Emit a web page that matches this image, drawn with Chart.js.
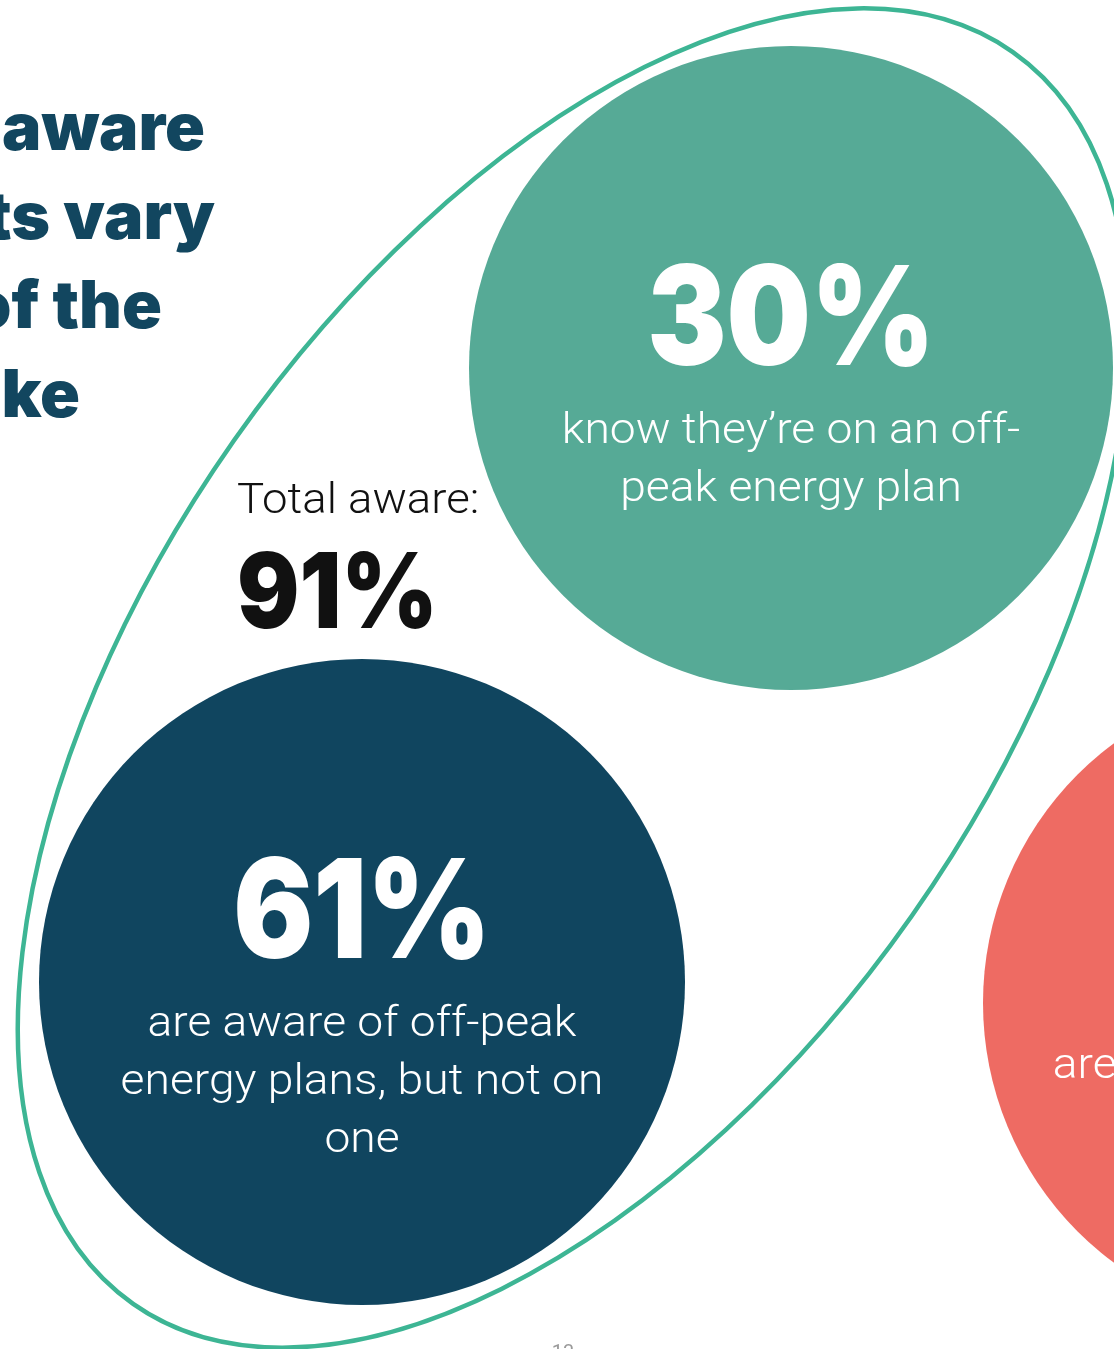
<!DOCTYPE html>
<html>
<head>
<meta charset="utf-8">
<script src="https://cdn.jsdelivr.net/npm/chart.js@4/dist/chart.umd.min.js"></script>
<style>
  html, body { margin: 0; padding: 0; background: #ffffff; }
  #wrap { width: 1114px; height: 1349px; position: relative; overflow: hidden; }
</style>
</head>
<body>
<div id="wrap"><canvas id="awareness"></canvas></div>
<script>
// ===== data =====
const groups = ['On an off-peak plan', 'Aware, not on one', 'Not aware'];
const shares = [30, 61, 9];
const totalAware = [91];
const groupLines = [
  ['know they\u2019re on an off-', 'peak energy plan'],
  ['are aware of off-peak', 'energy plans, but not on', 'one'],
  ['are not aware of off-peak', 'energy plans']
];
const titleTails = ['aware', 'ts vary', 'of the', 'ke'];

// ===== layout (canvas units) =====
const W = 1114, H = 1349;
const bubbleAt = [
  { x: 791, y: 368, r: 322, color: '#56aa96' },
  { x: 362, y: 982, r: 323, color: '#10455f' },
  { x: 1306, y: 1003, r: 323, color: '#ee6b63' }
];
const ring = { x: 573, y: 678, a: 765, b: 414, angle: -54.9, color: '#3db594' };

const NUM_FONT = '"Inter", "Roboto", "Liberation Sans", sans-serif';
const TXT_FONT = '"Roboto", "Noto Sans", "DejaVu Sans", sans-serif';

// draw text squeezed or stretched horizontally around its anchor
function drawText(ctx, str, px, py, sx) {
  ctx.save();
  ctx.translate(px, py);
  ctx.scale(sx, 1);
  ctx.fillText(str, 0, 0);
  ctx.restore();
}

// ===== plugin: ring around the aware groups =====
const ringPlugin = {
  id: 'ring',
  beforeDatasetsDraw(chart) {
    const { ctx, scales: { x, y } } = chart;
    const cx = x.getPixelForValue(ring.x);
    const cy = y.getPixelForValue(ring.y);
    const rx = Math.abs(x.getPixelForValue(ring.a) - x.getPixelForValue(0));
    const ry = Math.abs(x.getPixelForValue(ring.b) - x.getPixelForValue(0));
    ctx.save();
    ctx.beginPath();
    ctx.ellipse(cx, cy, rx, ry, ring.angle * Math.PI / 180, 0, Math.PI * 2);
    ctx.lineWidth = 4.5;
    ctx.strokeStyle = ring.color;
    ctx.stroke();
    ctx.restore();
  }
};

// ===== plugin: labels =====
const labelPlugin = {
  id: 'labels',
  afterDatasetsDraw(chart) {
    const { ctx, scales: { x, y } } = chart;
    ctx.save();
    ctx.textBaseline = 'alphabetic';

    // bubble texts, block centred on the bubble
    const meta = chart.getDatasetMeta(0);
    meta.data.forEach((pt, i) => {
      const lines = groupLines[i];
      const base = pt.y - 3 - (lines.length - 2) * 21;
      ctx.fillStyle = '#ffffff';
      ctx.textAlign = 'center';
      ctx.font = '900 138px ' + NUM_FONT;
      drawText(ctx, shares[i] + '%', pt.x, base, 0.86);
      ctx.font = '300 42px ' + TXT_FONT;
      lines.forEach((ln, k) => {
        drawText(ctx, ln, pt.x, base + 78 + k * 58, 1.1);
      });
    });

    // total aware
    ctx.fillStyle = '#111111';
    ctx.textAlign = 'left';
    ctx.font = '300 42px ' + TXT_FONT;
    drawText(ctx, 'Total aware:', x.getPixelForValue(237), y.getPixelForValue(513), 1.085);
    ctx.font = '900 104px ' + NUM_FONT;
    drawText(ctx, totalAware[0] + '%', x.getPixelForValue(237), y.getPixelForValue(628), 0.89);

    // title tails
    ctx.fillStyle = '#12465f';
    ctx.textAlign = 'right';
    ctx.font = '900 66px ' + NUM_FONT;
    const ends = [205, 215, 162, 80];
    titleTails.forEach((t, i) => {
      ctx.fillText(t, x.getPixelForValue(ends[i]), y.getPixelForValue(150 + i * 89));
    });

    // page number
    ctx.fillStyle = '#9a9a9a';
    ctx.textAlign = 'center';
    ctx.textBaseline = 'top';
    ctx.font = '20px ' + TXT_FONT;
    ctx.fillText('13', x.getPixelForValue(563), y.getPixelForValue(1344));
    ctx.restore();
  }
};

// ===== chart =====
new Chart(document.getElementById('awareness'), {
  type: 'bubble',
  data: {
    datasets: [{
      label: 'Awareness',
      data: groups.map((g, i) => ({ x: bubbleAt[i].x, y: bubbleAt[i].y, r: bubbleAt[i].r })),
      backgroundColor: bubbleAt.map(b => b.color),
      hoverBackgroundColor: bubbleAt.map(b => b.color),
      borderWidth: 0,
      hoverBorderWidth: 0,
      hoverRadius: 0,
      clip: false
    }]
  },
  options: {
    responsive: true,
    maintainAspectRatio: false,
    animation: false,
    events: [],
    layout: { padding: 0, autoPadding: false },
    plugins: {
      legend: { display: false },
      tooltip: { enabled: false }
    },
    scales: {
      x: { type: 'linear', min: 0, max: W, display: false },
      y: { type: 'linear', min: 0, max: H, reverse: true, display: false }
    }
  },
  plugins: [ringPlugin, labelPlugin]
});
</script>
</body>
</html>
